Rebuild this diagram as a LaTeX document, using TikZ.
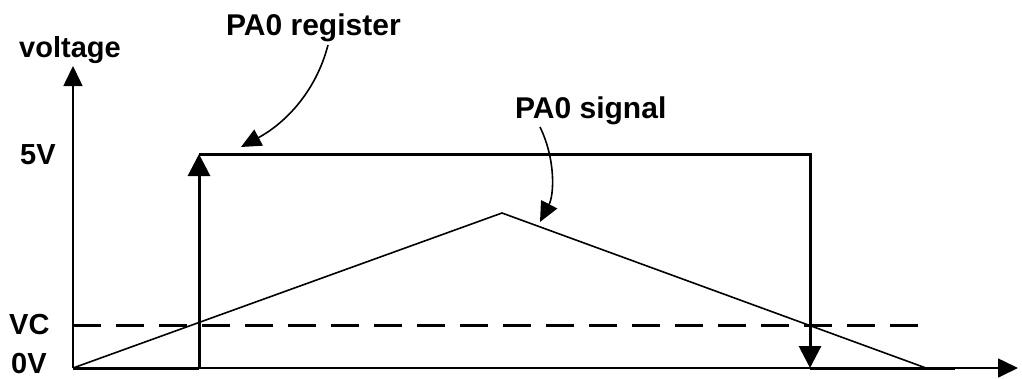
\documentclass[tikz,border=0pt]{standalone}
\usepackage{fontspec}
\setmainfont{Liberation Sans}
\usetikzlibrary{arrows.meta}

\begin{document}
\begin{tikzpicture} [
  x = 1pt, y = -1pt,
  lbl/.style = {anchor = base west, inner sep = 0pt, font = \fontsize{29}{31}\selectfont\bfseries},
  note/.style = {anchor = base west, inner sep = 0pt, font = \fontsize{30}{32}\selectfont\bfseries},
  axe/.style = {draw, line width = 1.6pt, -{Triangle[length=20pt,width=19pt]}},
  creneau/.style = {draw, line width = 3pt},
  fleche/.style = {draw, line width = 1.6pt, -{Triangle[length=20pt,width=18pt]}},
  rampe/.style = {draw, line width = 1.6pt},
  seuil/.style = {draw, line width = 3pt, dash pattern = on 28pt off 15pt},
]

\useasboundingbox (0,0) rectangle (1022,378);

 \coordinate (orig) at (73,368);
 \coordinate (haut) at (73,66);
 \coordinate (droite) at (1018,368);

 \coordinate (mont) at (199,368);
 \coordinate (montH) at (199,154);
 \coordinate (descH) at (810,154);
 \coordinate (desc) at (810,368);
 \coordinate (finreg) at (955,368);

 \coordinate (sommet) at (502,213);
 \coordinate (finsig) at (926,368);

 \coordinate (vcg) at (73,325);
 \coordinate (vcd) at (927,325);

\node [lbl] (volt) at (19,57) {voltage};
\node [lbl] (cinq) at (20,164) {5V};
\node [lbl] (vc) at (9,334) {VC};
\node [lbl] (zero) at (11,373) {0V};

\node [note] (reg) at (226,35) {PA0 register};
\node [note] (sig) at (515,118) {PA0 signal};

 \coordinate (pReg) at (328,45);
 \coordinate (tReg) at (241,147);
 \coordinate (pSig) at (540,127);
 \coordinate (tSig) at (540,222);

% axes
\path [axe] (orig) -- (haut);
\path [axe] (orig) -- (droite);

% seuil et signal
\path [seuil] (vcg) -- (vcd);
\path [rampe] (orig) -- (sommet) -- (finsig);

% registre
\path [creneau] (orig) -- (mont);
\path [creneau, -{Triangle[length=22pt,width=22pt]}] (mont) -- (montH);
\path [creneau, -{Triangle[length=22pt,width=22pt]}] (montH) -- (descH) -- (desc);
\path [creneau] (desc) -- (finreg);

 \begin{scope}[every path/.style=fleche]
\path (pReg) .. controls (315,95) and (282,125) .. (tReg);
\path (pSig) .. controls (556,160) and (554,195) .. (tSig);
\end{scope}

\end{tikzpicture}
\end{document}
